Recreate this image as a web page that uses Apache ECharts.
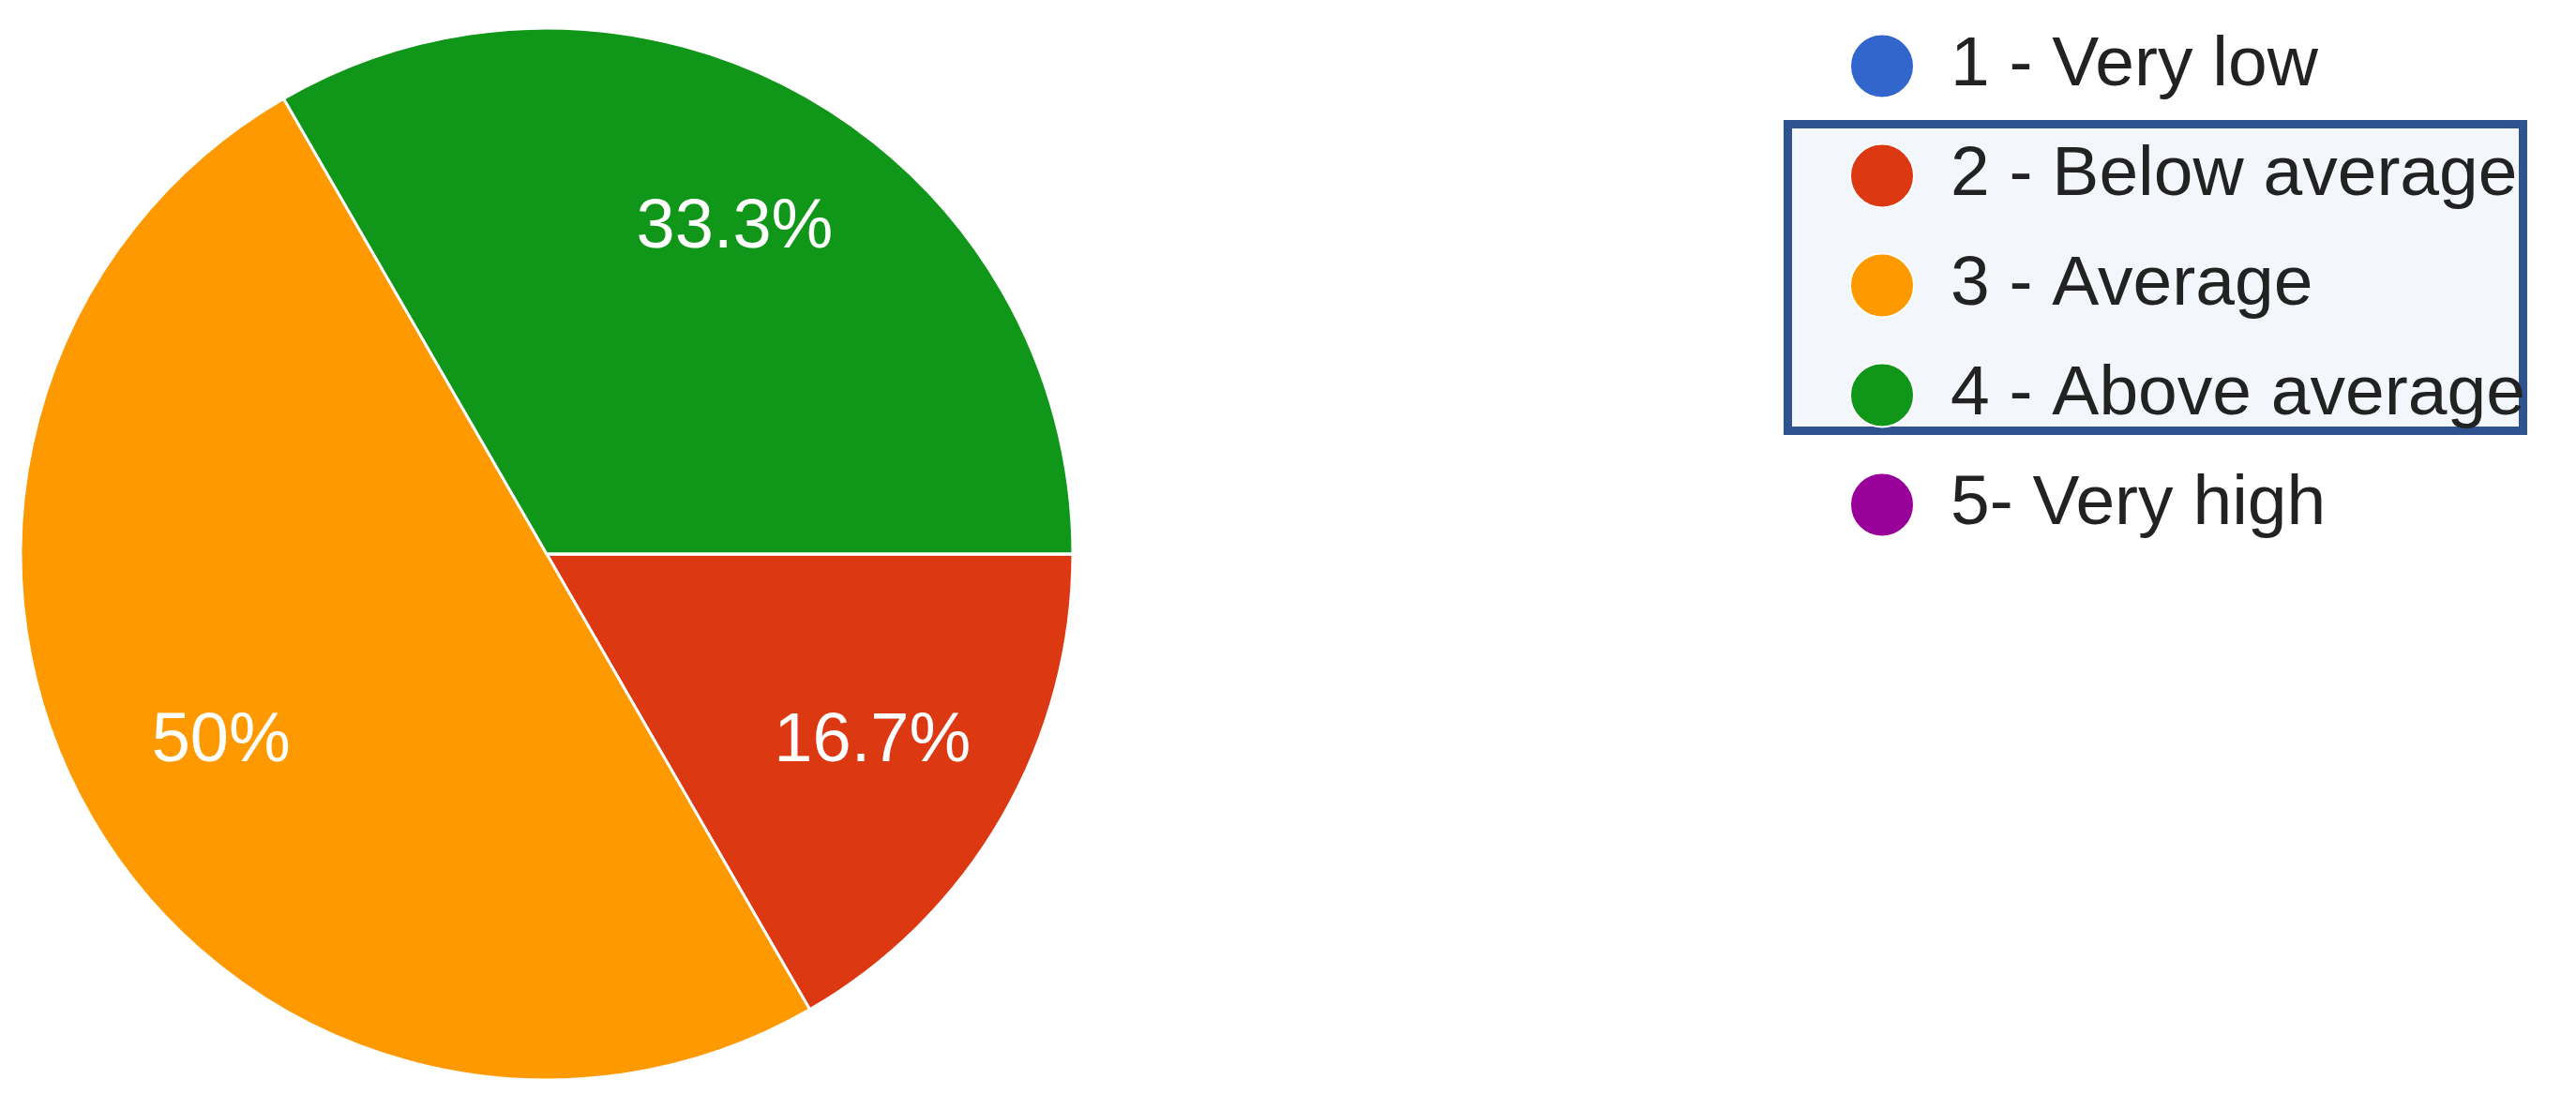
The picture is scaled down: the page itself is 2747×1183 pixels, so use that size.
<!DOCTYPE html>
<html>
<head>
<meta charset="utf-8">
<script src="https://cdn.jsdelivr.net/npm/echarts@6/dist/echarts.min.js"></script>
<style>
html,body{margin:0;padding:0;background:#fff;}
#c{width:2747px;height:1183px;}
</style>
</head>
<body>
<div id="c"></div>
<script>
const categories = ['1 - Very low', '2 - Below average', '3 - Average', '4 - Above average', '5- Very high'];
const values = [0, 1, 3, 2, 0];
const colors = ['#3366cc', '#dc3912', '#ff9900', '#109618', '#990099'];

const FONT = '"Liberation Sans", Arial, sans-serif';
const dataItems = categories.map((n, i) => ({ name: n, value: values[i] }));

const chart = echarts.init(document.getElementById('c'), null, { renderer: 'canvas' });
chart.setOption({
  animation: false,
  backgroundColor: '#ffffff',
  color: colors,
  graphic: [{
    type: 'rect',
    z: 0,
    shape: { x: 1906.5, y: 132.5, width: 784, height: 327 },
    style: { fill: '#f3f6fb', stroke: '#2f5290', lineWidth: 9 }
  }],
  legend: {
    orient: 'vertical',
    left: 1972,
    top: 33,
    padding: 0,
    itemWidth: 68,
    itemHeight: 68,
    itemGap: 42,
    icon: 'circle',
    z: 5,
    data: categories,
    textStyle: {
      fontFamily: FONT,
      fontSize: 75,
      lineHeight: 68,
      color: '#222222',
      padding: [0, 0, 0, 34]
    }
  },
  series: [{
    type: 'pie',
    center: [583, 591],
    radius: [0, 561],
    startAngle: 0,
    clockwise: true,
    silent: true,
    label: { show: false },
    labelLine: { show: false },
    itemStyle: { borderColor: '#ffffff', borderWidth: 3 },
    data: dataItems
  }, {
    type: 'pie',
    center: [583, 591],
    radius: [236, 560],
    startAngle: 0,
    clockwise: true,
    silent: true,
    percentPrecision: 1,
    itemStyle: { color: 'rgba(0,0,0,0)', borderWidth: 0 },
    labelLine: { show: false },
    label: {
      show: true,
      position: 'inside',
      color: '#ffffff',
      fontFamily: FONT,
      fontSize: 74,
      textBorderWidth: 0,
      formatter: p => (p.value > 0 ? p.percent + '%' : '')
    },
    data: dataItems
  }]
});
</script>
</body>
</html>
